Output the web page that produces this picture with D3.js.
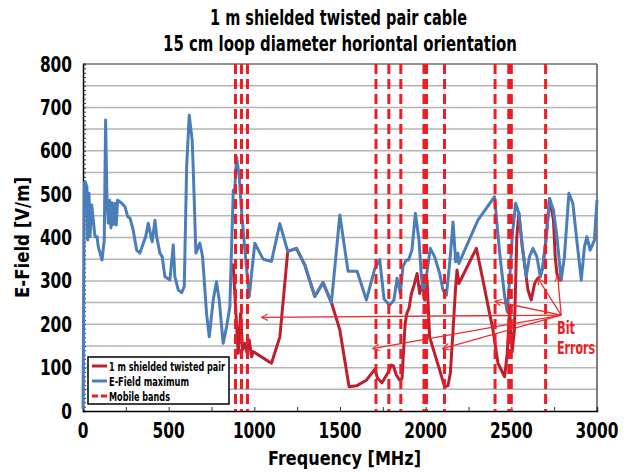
<!DOCTYPE html>
<html>
<head>
<meta charset="utf-8">
<script src="https://cdn.jsdelivr.net/npm/d3@7"></script>
<style>
  body { margin: 0; background: #fff; }
  text { font-family: "DejaVu Sans", sans-serif; font-weight: bold; }
</style>
</head>
<body>
<div id="chart"></div>
<script>
// E-Field maximum [frequency MHz, V/m]
var efieldMax = [
  [0, 5], [8, 525], [12, 529], [23, 517], [27, 394], [35, 502], [41, 402], [51, 475], [60, 440],
  [70, 402], [82, 402], [89, 379], [111, 348], [124, 394], [132, 671], [140, 486], [148, 433],
  [156, 486], [163, 422], [170, 480], [178, 430], [187, 479], [194, 429], [202, 486], [226, 479],
  [245, 471], [261, 448], [274, 445], [293, 417], [313, 371], [332, 364], [352, 387], [366, 402],
  [381, 433], [397, 402], [404, 390], [420, 440], [430, 402], [449, 364], [462, 356], [478, 310],
  [507, 302], [527, 383], [536, 310], [556, 279], [576, 273], [591, 287], [605, 563], [620, 682],
  [637, 625], [643, 563], [659, 364], [682, 387], [698, 356], [721, 225], [737, 171], [760, 256],
  [779, 298], [795, 256], [818, 156], [838, 194], [857, 240], [877, 509], [885, 505], [896, 586],
  [912, 540], [925, 463], [945, 371], [970, 264], [984, 317], [1003, 387], [1051, 350], [1100, 345],
  [1149, 432], [1195, 368], [1246, 375], [1294, 337], [1353, 264], [1401, 296], [1450, 250],
  [1499, 452], [1547, 322], [1600, 322], [1654, 256], [1703, 328], [1732, 349], [1757, 258],
  [1790, 244], [1815, 256], [1833, 306], [1852, 271], [1868, 334], [1887, 348], [1900, 348],
  [1920, 371], [1940, 456], [1961, 394], [1975, 310], [1988, 271], [2004, 310], [2027, 375],
  [2052, 356], [2082, 317], [2101, 279], [2121, 267], [2140, 340], [2160, 436], [2175, 344],
  [2188, 364], [2194, 340], [2237, 379], [2305, 440], [2402, 494], [2432, 364], [2461, 264],
  [2476, 229], [2490, 302], [2505, 402], [2525, 479], [2544, 456], [2564, 379], [2587, 310],
  [2606, 356], [2626, 375], [2649, 356], [2669, 310], [2684, 333], [2704, 402], [2723, 490],
  [2746, 463], [2766, 402], [2791, 302], [2810, 356], [2836, 502], [2859, 479], [2882, 394],
  [2908, 302], [2927, 379], [2941, 402], [2960, 371], [2985, 394], [3000, 486]
];

// 1 m shielded twisted pair [frequency MHz, V/m]
var twistedPair = [
  [876, 340], [906, 133], [920, 225], [931, 141], [945, 156], [958, 133], [970, 164], [984, 125],
  [993, 137], [1100, 110], [1149, 171], [1195, 368], [1246, 375], [1294, 337], [1353, 264],
  [1401, 296], [1450, 250], [1499, 187], [1553, 56], [1596, 58], [1654, 71], [1703, 96],
  [1720, 75], [1745, 65], [1778, 87], [1800, 106], [1812, 104], [1829, 83], [1848, 71],
  [1862, 75], [1880, 200], [1890, 225], [1903, 237], [1917, 271], [1930, 287], [1950, 317],
  [1965, 271], [1981, 294], [1994, 256], [2008, 302], [2023, 171], [2052, 133], [2082, 94],
  [2111, 56], [2130, 58], [2144, 87], [2160, 187], [2175, 287], [2183, 325], [2194, 294],
  [2296, 375], [2334, 302], [2373, 225], [2393, 187], [2422, 110], [2461, 79], [2476, 133],
  [2490, 233], [2505, 137], [2518, 187], [2532, 402], [2544, 456], [2564, 379], [2597, 279],
  [2616, 256], [2636, 294], [2652, 305], [2669, 310], [2684, 333], [2704, 402], [2723, 490],
  [2746, 440], [2756, 356], [2766, 317], [2781, 302], [2791, 302]
];

// mobile band edges [MHz]
var mobileBands = [890, 925, 960, 1710, 1785, 1855, 1990, 2005, 2110, 2405, 2485, 2500, 2700];

var xTicks = [0, 500, 1000, 1500, 2000, 2500, 3000];
var yTicks = [0, 100, 200, 300, 400, 500, 600, 700, 800];

// bit error arrows: from label to [MHz, V/m]
var bitErrorFrom = [2791, 221];
var bitErrorTo = [[1042, 216], [1691, 144], [2099, 144], [2404, 253], [2655, 306], [2770, 313]];

var W = 631, H = 473;
var svg = d3.select("#chart").append("svg").attr("width", W).attr("height", H);

var x = d3.scaleLinear().domain([0, 3000]).range([83, 597]);
var y = d3.scaleLinear().domain([0, 800]).range([411, 64]);

// squeeze text into the width it has in the picture
function fit(sel, w) {
  return sel.attr("textLength", w).attr("lengthAdjust", "spacingAndGlyphs");
}

// gridlines every 50
svg.append("g").selectAll("line")
  .data(d3.range(50, 801, 50))
  .enter().append("line")
  .attr("x1", x(0)).attr("x2", x(3000))
  .attr("y1", function(d) { return y(d); }).attr("y2", function(d) { return y(d); })
  .style("stroke", function(d) { return d == 800 ? "#6e6e6e" : "#b4b4b4"; })
  .style("stroke-width", 1.5);

// right border
svg.append("line").attr("x1", x(3000)).attr("x2", x(3000)).attr("y1", y(0)).attr("y2", y(800))
  .style("stroke", "#555").style("stroke-width", 1.5);

// axes
var yAxis = d3.axisLeft(y).tickValues(d3.range(0, 801, 10)).tickSize(-3).tickFormat("");
var gy = svg.append("g").attr("transform", "translate(" + x(0) + ",0)").call(yAxis);
gy.selectAll(".tick line").attr("stroke", "#333");
gy.select(".domain").attr("stroke", "#000").attr("stroke-width", 1.5);

var xAxis = d3.axisBottom(x).tickValues(d3.range(0, 3001, 250)).tickSize(-4).tickFormat("");
var gx = svg.append("g").attr("transform", "translate(0," + y(0) + ")").call(xAxis);
gx.selectAll(".tick line").attr("stroke", "#333");
gx.select(".domain").attr("stroke", "#000").attr("stroke-width", 1.5);

// tick labels
svg.append("g").selectAll("text").data(yTicks).enter().append("text")
  .attr("x", 72).attr("y", function(d) { return y(d) + 7.5; })
  .attr("text-anchor", "end").style("font-size", "21px")
  .attr("textLength", function(d) { return String(d).length * 10.7; })
  .attr("lengthAdjust", "spacingAndGlyphs")
  .text(function(d) { return d; });

svg.append("g").selectAll("text").data(xTicks).enter().append("text")
  .attr("x", function(d) { return x(d); }).attr("y", 438)
  .attr("text-anchor", "middle").style("font-size", "21px")
  .attr("textLength", function(d) { return String(d).length * 10.7; })
  .attr("lengthAdjust", "spacingAndGlyphs")
  .text(function(d) { return d; });

// series
var line = d3.line()
  .x(function(d) { return x(d[0]); })
  .y(function(d) { return y(d[1]); });

svg.append("path").datum(twistedPair).attr("d", line)
  .style("fill", "none").style("stroke", "#be1e2d").style("stroke-width", 3).style("stroke-linejoin", "round");

svg.append("path").datum(efieldMax).attr("d", line)
  .style("fill", "none").style("stroke", "#4a7ebb").style("stroke-width", 3).style("stroke-linejoin", "round");

// mobile bands
svg.append("g").selectAll("line").data(mobileBands).enter().append("line")
  .attr("x1", function(d) { return x(d); }).attr("x2", function(d) { return x(d); })
  .attr("y1", y(800)).attr("y2", y(0))
  .style("stroke", "#ee1c25").style("stroke-width", 3).style("stroke-dasharray", "10,5");

// arrows
svg.append("defs").append("marker")
  .attr("id", "arr").attr("viewBox", "0 0 10 10").attr("refX", 9).attr("refY", 5)
  .attr("markerWidth", 8).attr("markerHeight", 8).attr("markerUnits", "userSpaceOnUse").attr("orient", "auto")
  .append("path").attr("d", "M1,1 L9,5 L1,9")
  .style("fill", "none").style("stroke", "#ee2a2a").style("stroke-width", 1.4);

svg.append("g").selectAll("line").data(bitErrorTo).enter().append("line")
  .attr("x1", x(bitErrorFrom[0])).attr("y1", y(bitErrorFrom[1]))
  .attr("x2", function(d) { return x(d[0]); }).attr("y2", function(d) { return y(d[1]); })
  .attr("marker-end", "url(#arr)")
  .style("stroke", "#ee2a2a").style("stroke-width", 1.3);

fit(svg.append("text").attr("x", 557).attr("y", 334).style("fill", "#ee1c25").style("font-size", "18px").text("Bit"), 18);
fit(svg.append("text").attr("x", 557).attr("y", 354).style("fill", "#ee1c25").style("font-size", "18px").text("Errors"), 38);

// legend
var lg = svg.append("g");
lg.append("rect").attr("x", 88).attr("y", 357).attr("width", 141).attr("height", 47)
  .style("fill", "#fff").style("stroke", "#000").style("stroke-width", 1.5);
var legendItems = [
  { label: "1 m shielded twisted pair", color: "#be1e2d", dash: null, w: 116 },
  { label: "E-Field maximum", color: "#4a7ebb", dash: null, w: 80 },
  { label: "Mobile bands", color: "#ee1c25", dash: "6,3", w: 61 }
];
legendItems.forEach(function(d, i) {
  var ly = 366 + i * 15;
  lg.append("line").attr("x1", 92).attr("x2", 107).attr("y1", ly).attr("y2", ly)
    .style("stroke", d.color).style("stroke-width", 3).style("stroke-dasharray", d.dash);
  fit(lg.append("text").attr("x", 109).attr("y", ly + 4.5).style("font-size", "13px").text(d.label), d.w);
});

// titles
fit(svg.append("text").attr("x", 210).attr("y", 25).style("font-size", "21px")
  .text("1 m shielded twisted pair cable"), 257);
fit(svg.append("text").attr("x", 163).attr("y", 51).style("font-size", "21px")
  .text("15 cm loop diameter horiontal orientation"), 354);
fit(svg.append("text").attr("x", 268).attr("y", 465).style("font-size", "20px")
  .text("Frequency [MHz]"), 153);
fit(svg.append("text").attr("transform", "translate(29,298) rotate(-90)")
  .style("font-size", "20px").text("E-Field [V/m]"), 121);
</script>
</body>
</html>
